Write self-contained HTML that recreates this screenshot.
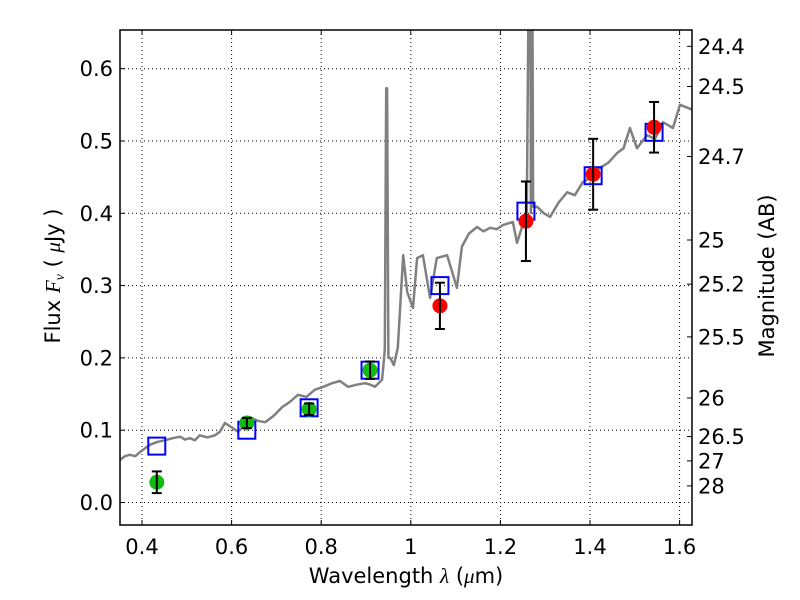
<!DOCTYPE html>
<html><head><meta charset="utf-8"><style>
body{margin:0;background:#fff;}
svg{display:block;font-family:"DejaVu Sans","Liberation Sans",sans-serif;}
</style></head><body>
<svg id="chart" width="800" height="600" viewBox="0 0 800 600" xmlns="http://www.w3.org/2000/svg">
<rect width="800" height="600" fill="#fff"/>
<g id="grid"></g>
<g id="spec"></g>
<g id="marks"></g>
<g id="axes"></g>
<text x="406" y="583" font-size="21" text-anchor="middle">Wavelength  <tspan font-style="italic" font-family="Liberation Serif, serif">λ</tspan> (<tspan font-style="italic" font-family="Liberation Serif, serif">μ</tspan>m)</text>
<text transform="translate(60,276) rotate(-90)" font-size="21" text-anchor="middle">Flux  <tspan font-style="italic" font-family="Liberation Serif, serif">F</tspan><tspan font-style="italic" font-family="Liberation Serif, serif" font-size="14" dy="4">ν</tspan><tspan dy="-4">  ( </tspan><tspan font-style="italic" font-family="Liberation Serif, serif">μ</tspan>Jy )</text>
<text transform="translate(774,276) rotate(-90)" font-size="21" text-anchor="middle">Magnitude (AB)</text>
</svg>
<script>
const specLam=[0.351,0.362,0.373,0.385,0.396,0.407,0.418,0.435,0.451,0.468,0.485,0.496,0.507,0.518,0.529,0.546,0.563,0.574,0.585,0.600,0.614,0.628,0.641,0.658,0.675,0.694,0.713,0.730,0.748,0.767,0.786,0.805,0.824,0.842,0.860,0.879,0.898,0.910,0.920,0.936,0.942,0.945,0.947,0.950,0.954,0.962,0.971,0.983,0.992,1.005,1.014,1.027,1.043,1.058,1.081,1.103,1.114,1.130,1.148,1.162,1.177,1.192,1.206,1.228,1.237,1.259,1.266,1.268,1.270,1.273,1.282,1.297,1.311,1.330,1.349,1.366,1.384,1.403,1.422,1.441,1.460,1.475,1.489,1.505,1.527,1.545,1.563,1.585,1.601,1.630];
const specFlux=[0.059,0.064,0.066,0.064,0.070,0.075,0.080,0.084,0.086,0.089,0.091,0.087,0.089,0.086,0.093,0.090,0.093,0.098,0.110,0.104,0.098,0.106,0.118,0.113,0.111,0.120,0.132,0.139,0.149,0.146,0.156,0.160,0.165,0.168,0.160,0.163,0.165,0.163,0.160,0.170,0.211,0.573,0.573,0.200,0.200,0.190,0.214,0.342,0.291,0.269,0.338,0.342,0.283,0.338,0.342,0.297,0.354,0.372,0.381,0.375,0.380,0.378,0.384,0.388,0.359,0.402,0.95,0.40,0.95,0.409,0.409,0.400,0.395,0.415,0.429,0.425,0.443,0.450,0.463,0.470,0.483,0.490,0.518,0.490,0.508,0.503,0.526,0.518,0.550,0.543];
const greenLam=[0.433,0.634,0.773,0.909];
const greenFlux=[0.028,0.110,0.129,0.183];
const greenErr=[0.015,0.007,0.008,0.012];
const redLam=[1.065,1.257,1.407,1.543];
const redFlux=[0.272,0.389,0.454,0.519];
const redErr=[0.032,0.055,0.049,0.035];
const boxLam=[0.433,0.634,0.773,0.909,1.065,1.257,1.407,1.543];
const boxFlux=[0.078,0.100,0.131,0.183,0.300,0.403,0.452,0.512];
const xTicks=[0.4,0.6,0.8,1.0,1.2,1.4,1.6];
const xTickLabels=["0.4","0.6","0.8","1","1.2","1.4","1.6"];
const yTicks=[0.0,0.1,0.2,0.3,0.4,0.5,0.6];
const yTickLabels=["0.0","0.1","0.2","0.3","0.4","0.5","0.6"];
const magTicks=[24.4,24.5,24.7,25,25.2,25.5,26,26.5,27,28];
const magLabels=["24.4","24.5","24.7","25","25.2","25.5","26","26.5","27","28"];

const L=120,R=692,T=30,B=525;
const X=l=>142+(l-0.4)*448;
const Y=f=>502.5-f*723;
const NS="http://www.w3.org/2000/svg";
function mk(tag,attrs,parent){const e=document.createElementNS(NS,tag);for(const k in attrs)e.setAttribute(k,attrs[k]);parent.appendChild(e);return e;}
const grid=document.getElementById('grid'),spec=document.getElementById('spec'),marks=document.getElementById('marks'),axes=document.getElementById('axes');

xTicks.forEach((t,i)=>{
  const l=mk('line',{x1:X(t),x2:X(t),y1:T,y2:B,stroke:'#000','stroke-width':1,'stroke-dasharray':'1,3'},grid);
  
  
  mk('line',{x1:X(t),x2:X(t),y1:B,y2:B-5,stroke:'#000'},axes);
  mk('line',{x1:X(t),x2:X(t),y1:T,y2:T+5,stroke:'#000'},axes);
  const tx=mk('text',{x:X(t),y:B+29,'font-size':21,'text-anchor':'middle'},axes);
  tx.textContent=xTickLabels[i];
  
  
});
yTicks.forEach((t,i)=>{
  const l=mk('line',{x1:L,x2:R,y1:Y(t),y2:Y(t),stroke:'#000','stroke-width':1,'stroke-dasharray':'1,3'},grid);
  
  
  mk('line',{x1:L,x2:L+5,y1:Y(t),y2:Y(t),stroke:'#000'},axes);
  const tx=mk('text',{x:113,y:Y(t)+7.5,'font-size':21,'text-anchor':'end'},axes);
  tx.textContent=yTickLabels[i];
  
  
});
magTicks.forEach((m,i)=>{
  const f=Math.pow(10,(23.9-m)/2.5);
  mk('line',{x1:R,x2:R-5,y1:Y(f),y2:Y(f),stroke:'#000'},axes);
  const tx=mk('text',{x:698,y:Y(f)+7.5,'font-size':21,'text-anchor':'start'},axes);
  tx.textContent=magLabels[i];
  
  
});
const frame=mk('rect',{x:L,y:T,width:R-L,height:B-T,fill:'none',stroke:'#000','stroke-width':1.5},axes);



const cp=mk('clipPath',{id:'clip'},spec);mk('rect',{x:L,y:T,width:R-L,height:B-T},cp);
const pts=specLam.map((l,i)=>X(l).toFixed(1)+','+Y(specFlux[i]).toFixed(1)).join(' ');
const pl=mk('polyline',{points:pts,fill:'none',stroke:'#808080','stroke-width':2.5,'stroke-linejoin':'round','clip-path':'url(#clip)'},spec);



boxLam.forEach((l,i)=>{
  const r=mk('rect',{x:X(l)-8.5,y:Y(boxFlux[i])-8.5,width:17,height:17,fill:'none',stroke:'#0000ff','stroke-width':2},marks);
  
  
});
function pointSet(lams,fl,er,color,name){
  lams.forEach((l,i)=>{
    const c=mk('circle',{cx:X(l),cy:Y(fl[i]),r:7.5,fill:color},marks);
    
    
    const x=X(l),y1=Y(fl[i]+er[i]),y2=Y(fl[i]-er[i]);
    const g=mk('g',{stroke:'#000','stroke-width':2},marks);
    
    
    mk('line',{x1:x,x2:x,y1:y1,y2:y2},g);
    mk('line',{x1:x-5,x2:x+5,y1:y1,y2:y1},g);
    mk('line',{x1:x-5,x2:x+5,y1:y2,y2:y2},g);
  });
}
pointSet(greenLam,greenFlux,greenErr,'#11bb11','optical-point');
pointSet(redLam,redFlux,redErr,'#ff0000','nir-point');
</script>
</body></html>
